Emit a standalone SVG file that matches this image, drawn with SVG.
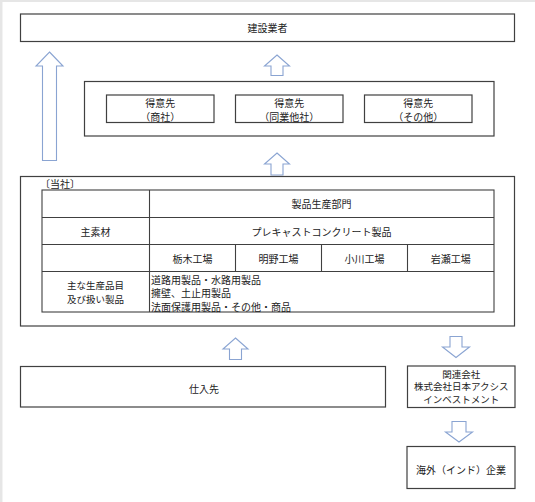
<svg xmlns="http://www.w3.org/2000/svg" width="535" height="502" viewBox="0 0 535 502">
<style>
.bx{fill:#fff;stroke:#404040;stroke-width:1.2}
.ln{stroke:#404040;stroke-width:1.1;fill:none}
.ar{fill:#fff;stroke:#8aa4d2;stroke-width:1.1;stroke-linejoin:miter}
text{font-family:"Noto Sans CJK JP","Noto Sans",sans-serif;font-size:10px;fill:#222;dominant-baseline:central}
.c{text-anchor:middle}
.s{font-size:9.5px}
</style>
<rect x="0" y="0" width="535" height="502" fill="#e6e6e6"/>
<rect x="2.5" y="2" width="532.5" height="500" fill="#fff"/>

<g id="connectors">
<path class="ar" d="M49.5,52 L63,66 L56.5,66 L56.5,160.5 L42.5,160.5 L42.5,66 L36,66 Z"/>
<path class="ar" d="M277,55 L289.5,66 L283,66 L283,75.5 L271,75.5 L271,66 L264.5,66 Z"/>
<path class="ar" d="M277,153 L289.5,164 L283,164 L283,175 L271,175 L271,164 L264.5,164 Z"/>
<path class="ar" d="M235.5,338 L248,349 L241.5,349 L241.5,359.5 L229.5,359.5 L229.5,349 L223,349 Z"/>
<path class="ar" d="M450,336.5 L462,336.5 L462,347 L469.5,347 L456,357.5 L442.5,347 L450,347 Z"/>
<path class="ar" d="M452,421.5 L466,421.5 L466,432 L472.5,432 L459,442 L445.5,432 L452,432 Z"/>
</g>

<g id="kensetsu">
<rect class="bx" x="20.5" y="14" width="494" height="27.5"/>
<text class="c" x="267.5" y="27.5">建設業者</text>
</g>

<g id="tokuisaki">
<rect class="bx" x="84.5" y="81.5" width="409.5" height="54.5"/>
<g id="tokuisaki1">
<rect class="bx" x="106.5" y="95" width="107.5" height="27.5"/>
<text class="c" x="160.25" y="102">得意先</text>
<text class="c" x="160.25" y="116">（商社）</text>
</g>
<g id="tokuisaki2">
<rect class="bx" x="235.5" y="95" width="107.5" height="27.5"/>
<text class="c" x="289.25" y="102">得意先</text>
<text class="c" x="289.25" y="116">（同業他社）</text>
</g>
<g id="tokuisaki3">
<rect class="bx" x="364.5" y="95" width="107.5" height="27.5"/>
<text class="c" x="418.25" y="102">得意先</text>
<text class="c" x="418.25" y="116">（その他）</text>
</g>
</g>

<g id="tousha">
<rect class="bx" x="20.5" y="176.5" width="494" height="149.5"/>
<text x="40" y="183.5">〔当社〕</text>
<rect class="ln" x="42" y="190" width="452" height="122"/>
<line class="ln" x1="149.5" y1="190" x2="149.5" y2="312"/>
<line class="ln" x1="42" y1="217.5" x2="494" y2="217.5"/>
<line class="ln" x1="42" y1="244.5" x2="494" y2="244.5"/>
<line class="ln" x1="42" y1="271.5" x2="494" y2="271.5"/>
<line class="ln" x1="235.5" y1="244.5" x2="235.5" y2="271.5"/>
<line class="ln" x1="321.5" y1="244.5" x2="321.5" y2="271.5"/>
<line class="ln" x1="407.5" y1="244.5" x2="407.5" y2="271.5"/>
<text class="c" x="321.5" y="203.5">製品生産部門</text>
<text class="c" x="95.5" y="231">主素材</text>
<text class="c" x="321.5" y="231">プレキャストコンクリート製品</text>
<text class="c" x="192.5" y="258">栃木工場</text>
<text class="c" x="278.5" y="258">明野工場</text>
<text class="c" x="364.5" y="258">小川工場</text>
<text class="c" x="450.75" y="258">岩瀬工場</text>
<text class="c s" x="95.5" y="285">主な生産品目</text>
<text class="c s" x="95.5" y="298.5">及び扱い製品</text>
<text x="151" y="279">道路用製品・水路用製品</text>
<text x="151" y="292.5">擁壁、土止用製品</text>
<text x="151" y="306">法面保護用製品・その他・商品</text>
</g>

<g id="shiiresaki">
<rect class="bx" x="20.5" y="366.5" width="365" height="40.5"/>
<text class="c" x="204" y="388">仕入先</text>
</g>

<g id="kanren">
<rect class="bx" x="407.5" y="366" width="107.5" height="41.5"/>
<text class="c s" x="461.25" y="373.5">関連会社</text>
<text class="c s" x="461.25" y="386.3">株式会社日本アクシス</text>
<text class="c s" x="461.25" y="399">インベストメント</text>
</g>

<g id="kaigai">
<rect class="bx" x="407" y="446.5" width="108" height="42"/>
<text class="c" x="461" y="469.5">海外（インド）企業</text>
</g>
</svg>
